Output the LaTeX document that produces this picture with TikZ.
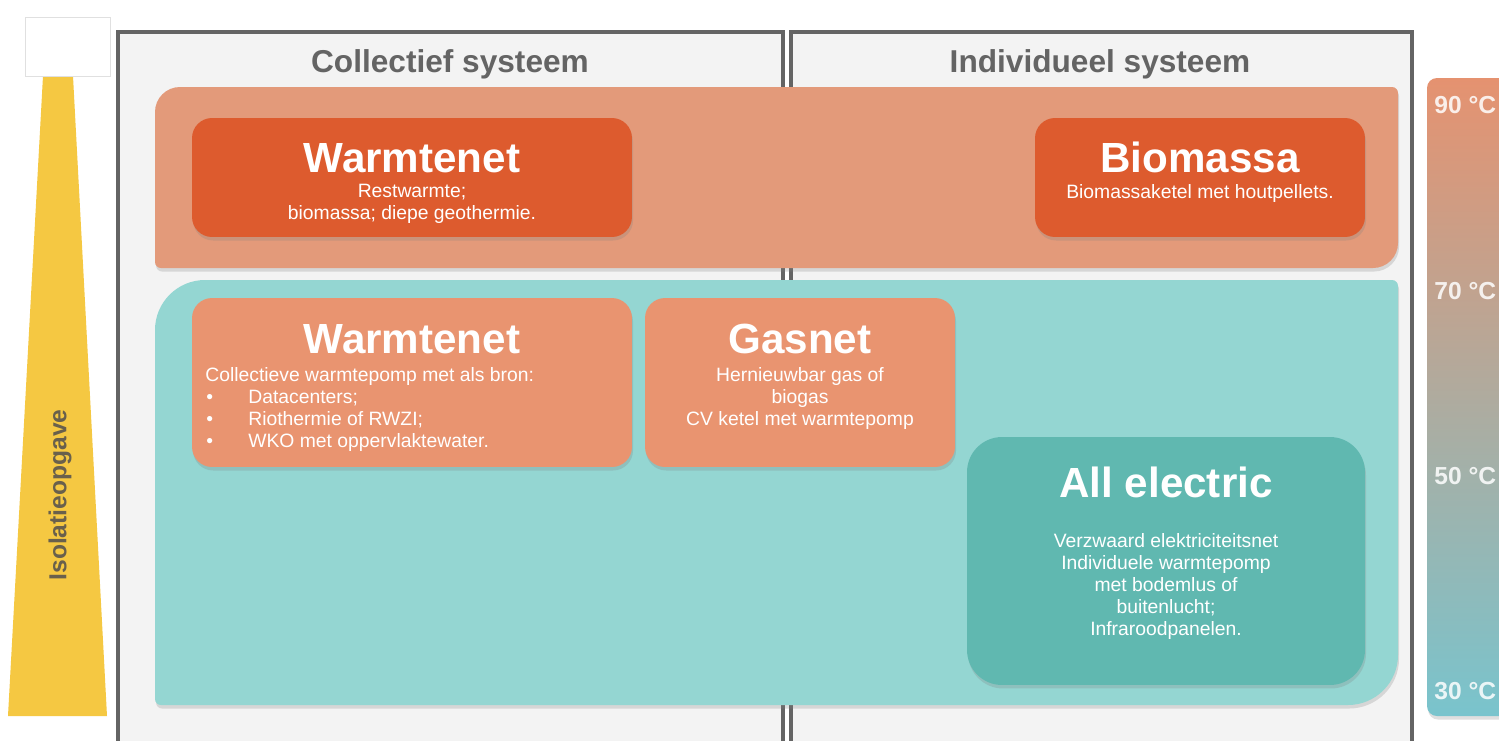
\documentclass[tikz,border=0pt]{standalone}
\usepackage{fontspec}
\setmainfont{Liberation Sans}
\usetikzlibrary{shadows}

\definecolor{framegray}{RGB}{100,100,100}
\definecolor{framefill}{RGB}{243,243,243}
\definecolor{headgray}{RGB}{100,100,100}
\definecolor{hotband}{RGB}{227,154,122}
\definecolor{warmband}{RGB}{148,214,210}
\definecolor{hotdark}{RGB}{221,91,46}
\definecolor{salmon}{RGB}{233,148,112}
\definecolor{tealdark}{RGB}{96,184,176}
\definecolor{isoyellow}{RGB}{245,200,66}
\definecolor{isogray}{RGB}{105,96,76}
\definecolor{bartop}{RGB}{229,146,112}
\definecolor{barmid}{RGB}{220,150,120}
\definecolor{barbot}{RGB}{121,196,205}

\tikzset{
  sysframe/.style={draw=framegray, line width=1.8pt, fill=framefill},
  softshadow/.style={drop shadow={shadow xshift=0.6pt, shadow yshift=-2pt, opacity=0.25}},
  boxbase/.style={rounded corners=0.4cm, inner sep=0pt, outer sep=0pt, softshadow},
  boxtitle/.style={text=white, font=\bfseries\fontsize{24}{26}\selectfont, anchor=base},
  % multi-line text: base is the baseline of the last line
  boxtext/.style={text=white, font=\fontsize{11}{12.5}\selectfont, align=center, anchor=base, inner sep=0pt},
  colhead/.style={text=headgray, font=\bfseries\fontsize{18}{20}\selectfont, anchor=base},
  templabel/.style={text=white, text opacity=.85, font=\bfseries\fontsize{14}{16}\selectfont, anchor=base west, inner sep=0pt},
}

\begin{document}
\begin{tikzpicture}[x=0.02cm, y=-0.02cm]
\clip (0,0) rectangle (1499,741);
\fill[white] (0,0) rectangle (1499,741);

% collective / individual frames
\draw[sysframe] (118,32) rectangle (783,760);
\draw[sysframe] (791,32) rectangle (1412,760);
\node[colhead] (collhead) at (450,72) {Collectief systeem};
\node[colhead] (indhead) at (1100,72) {Individueel systeem};

% high temperature band
\fill[hotband, softshadow] (700,87) [rounded corners=0.12cm] -- (1398,87) -- (1398,180)
  [rounded corners=0.5cm] -- (1398,268) -- (700,268)
  [rounded corners=0.12cm] -- (155,268) -- (155,180)
  [rounded corners=0.5cm] -- (155,87) -- cycle;
% low temperature band
\fill[warmband, softshadow] (700,280) [rounded corners=0.12cm] -- (1398,280) -- (1398,500)
  [rounded corners=1cm] -- (1398,705) -- (700,705)
  [rounded corners=0.12cm] -- (155,705) -- (155,500)
  [rounded corners=1cm] -- (155,280) -- cycle;

% options
\node[boxbase, fill=hotdark, minimum width=8.8cm, minimum height=2.38cm] (wtop) at (412,177.5) {};
\node[boxbase, fill=hotdark, minimum width=6.6cm, minimum height=2.38cm] (bio) at (1200,177.5) {};
\node[boxbase, fill=salmon, minimum width=8.8cm, minimum height=3.38cm] (wmid) at (412,382.5) {};
\node[boxbase, fill=salmon, minimum width=6.2cm, minimum height=3.38cm] (gas) at (800,382.5) {};
\node[boxbase, fill=tealdark, rounded corners=0.7cm, minimum width=7.96cm, minimum height=4.96cm] (elec) at (1166,561) {};

\node[boxtitle] (wtop-t) at (412,172) {Warmtenet};
\node[boxtext] (wtop-s) at (412,219) {Restwarmte;\\biomassa; diepe geothermie.};
\node[boxtitle] (bio-t) at (1200,172) {Biomassa};
\node[boxtext] (bio-s) at (1200,198) {Biomassaketel met houtpellets.};

\node[boxtitle] (wmid-t) at (412,353) {Warmtenet};
\node[boxtext, anchor=base west] (wmid-s) at (205,381) {Collectieve warmtepomp met als bron:};
\foreach \src [count=\i] in {Datacenters;, Riothermie of RWZI;, WKO met oppervlaktewater.}{
  \node[boxtext, anchor=base west] (bul-\i) at (206,381+22*\i) {•};
  \node[boxtext, anchor=base west] (src-\i) at (248,381+22*\i) {\src};
}

\node[boxtitle] (gas-t) at (800,353) {Gasnet};
\node[boxtext] (gas-s) at (800,425) {Hernieuwbar gas of\\biogas\\CV ketel met warmtepomp};

\node[boxtitle] (elec-t) at (1166,497) {All electric};
\node[boxtext] (elec-s) at (1166,635) {Verzwaard elektriciteitsnet\\Individuele warmtepomp\\met bodemlus of\\buitenlucht;\\Infraroodpanelen.};

% temperature scale
\shade[top color=bartop, middle color=barmid, bottom color=barbot, rounded corners=0.2cm, softshadow]
  (1427,78) rectangle (1540,716);
\foreach \t/\yb in {90/113, 70/299, 50/484, 30/699}
  \node[templabel] (temp\t) at (1434,\yb) {\t{} °C};

% insulation wedge
\fill[isoyellow] (43,76) -- (73,76) -- (107,716) -- (8,716) -- cycle;
\node[draw=black!12, fill=white, inner sep=0pt, minimum width=1.7cm, minimum height=1.18cm] (isobox) at (67.5,46.5) {};
\node[text=isogray, font=\bfseries\fontsize{14}{16}\selectfont, rotate=90] (iso) at (60,495) {Isolatieopgave};
\end{tikzpicture}
\end{document}
